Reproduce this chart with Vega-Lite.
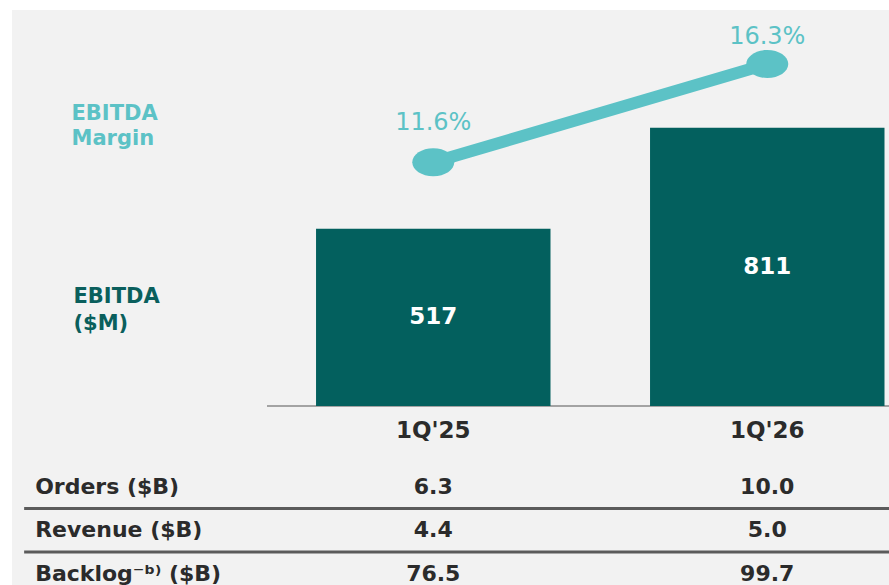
{
  "background": "white",
  "padding": {"left": 12, "top": 10, "right": 0, "bottom": 0},
  "bounds": "flush",
  "spacing": 0,
  "datasets": {
    "main": [
      {"period": "1Q'25", "ebitda": 517, "margin": 11.6, "margin_label": "11.6%"},
      {"period": "1Q'26", "ebitda": 811, "margin": 16.3, "margin_label": "16.3%"}
    ],
    "table": [
      {"metric": "Orders ($B)", "period": "1Q'25", "value": 6.3},
      {"metric": "Orders ($B)", "period": "1Q'26", "value": 10.0},
      {"metric": "Revenue ($B)", "period": "1Q'25", "value": 4.4},
      {"metric": "Revenue ($B)", "period": "1Q'26", "value": 5.0},
      {"metric": "Backlog⁻ᵇ⁾ ($B)", "period": "1Q'25", "value": 76.5},
      {"metric": "Backlog⁻ᵇ⁾ ($B)", "period": "1Q'26", "value": 99.7}
    ]
  },
  "vconcat": [
    {
      "width": 877,
      "height": 455,
      "data": {"name": "main"},
      "encoding": {
        "x": {
          "field": "period", "type": "nominal", "sort": null,
          "scale": {"domain": ["1Q'25", "1Q'26"], "paddingInner": 0.298, "paddingOuter": 0.4619, "align": 0.9854},
          "axis": null
        }
      },
      "layer": [
        {
          "mark": {"type": "rule", "color": "#a3a3a3", "strokeWidth": 2},
          "encoding": {
            "x": {"datum": "1Q'25", "type": "nominal", "bandPosition": -0.209, "axis": null},
            "x2": {"datum": "1Q'26", "bandPosition": 1.02},
            "y": {"datum": 0, "type": "quantitative", "scale": {"domain": [-172, 1154.5], "nice": false}, "axis": null}
          }
        },
        {
          "mark": {"type": "text", "color": "#2b2b2b", "fontSize": 23, "fontWeight": "bold", "font": "DejaVu Sans", "baseline": "middle", "dy": 24.5},
          "encoding": {
            "y": {"datum": 0, "type": "quantitative", "scale": {"domain": [-172, 1154.5], "nice": false}, "axis": null},
            "text": {"field": "period", "type": "nominal"}
          }
        },
        {
          "mark": {"type": "bar", "color": "#03605e"},
          "encoding": {
            "y": {
              "field": "ebitda", "type": "quantitative",
              "scale": {"domain": [-172, 1154.5], "nice": false},
              "axis": {"orient": "left", "title": ["EBITDA", "($M)"], "titleAngle": 0, "titleAlign": "left", "titleBaseline": "middle", "titleX": 61, "titleY": 286, "titleColor": "#0a5f5d", "titleFontSize": 21, "titleFontWeight": "bold", "titleLineHeight": 27, "titleFont": "DejaVu Sans", "titlePadding": 0, "labels": false, "ticks": false, "domain": false, "grid": false}
            }
          }
        },
        {
          "mark": {"type": "text", "color": "white", "fontSize": 23, "fontWeight": "bold", "font": "DejaVu Sans"},
          "encoding": {
            "y": {"field": "ebitda", "type": "quantitative", "scale": {"domain": [-344, 2309], "nice": false}, "axis": null},
            "text": {"field": "ebitda", "type": "quantitative"}
          }
        },
        {
          "mark": {
            "type": "line", "color": "#5cc2c6", "strokeWidth": 12, "strokeCap": "round",
            "point": {"shape": "M -1 0 A 1 0.667 0 1 0 1 0 A 1 0.667 0 1 0 -1 0 Z", "size": 1764, "filled": true, "color": "#5cc2c6", "opacity": 1}
          },
          "encoding": {
            "y": {
              "field": "margin", "type": "quantitative",
              "scale": {"domain": [-2.874, 18.885], "nice": false},
              "axis": {"orient": "left", "title": ["EBITDA", "Margin"], "titleAngle": 0, "titleAlign": "left", "titleBaseline": "middle", "titleX": 59, "titleY": 103, "titleColor": "#5cc2c6", "titleFontSize": 21, "titleFontWeight": "bold", "titleLineHeight": 25, "titleFont": "DejaVu Sans", "titlePadding": 0, "labels": false, "ticks": false, "domain": false, "grid": false}
            }
          }
        },
        {
          "mark": {"type": "text", "color": "#5cc2c6", "fontSize": 24, "font": "DejaVu Sans"},
          "encoding": {
            "y": {"field": "margin", "type": "quantitative", "scale": {"domain": [-7.07, 17.79], "nice": false}, "axis": null},
            "text": {"field": "margin_label", "type": "nominal"}
          }
        }
      ],
      "resolve": {"scale": {"y": "independent"}, "axis": {"y": "independent"}}
    },
    {
      "width": 877,
      "height": 120,
      "data": {"name": "table"},
      "encoding": {
        "y": {"field": "metric", "type": "nominal", "sort": null, "bandPosition": 1,
              "scale": {"domain": ["Orders ($B)", "Revenue ($B)", "Backlog⁻ᵇ⁾ ($B)"], "paddingInner": 0.5, "paddingOuter": 0.1293, "align": 0},
              "axis": null}
      },
      "layer": [
        {
          "transform": [
            {"filter": {"field": "period", "equal": "1Q'25"}},
            {"filter": {"not": {"field": "metric", "equal": "Orders ($B)"}}}
          ],
          "mark": {"type": "rule", "color": "#5b5b5b", "strokeWidth": 3},
          "encoding": {
            "x": {"datum": "1Q'25", "type": "nominal", "bandPosition": -1.245, "axis": null, "scale": {"domain": ["1Q'25", "1Q'26"], "paddingInner": 0.298, "paddingOuter": 0.4619, "align": 0.9854}},
            "x2": {"datum": "1Q'26", "bandPosition": 1.02},
            "y": {"field": "metric", "type": "nominal", "sort": null, "bandPosition": 0, "axis": null}
          }
        },
        {
          "transform": [
            {"filter": {"field": "period", "equal": "1Q'25"}}
          ],
          "mark": {"type": "text", "color": "#2b2b2b", "fontSize": 22, "fontWeight": "bold", "font": "DejaVu Sans", "align": "left"},
          "encoding": {
            "x": {"datum": "1Q'25", "type": "nominal", "bandPosition": -1.198, "axis": null},
            "text": {"field": "metric", "type": "nominal"}
          }
        },
        {
          "mark": {"type": "text", "color": "#2b2b2b", "fontSize": 22, "fontWeight": "bold", "font": "DejaVu Sans"},
          "encoding": {
            "x": {"field": "period", "type": "nominal", "sort": null, "axis": null,
                  "scale": {"domain": ["1Q'25", "1Q'26"], "paddingInner": 0.298, "paddingOuter": 0.4619, "align": 0.9854}},
            "text": {"field": "value", "type": "quantitative", "format": ".1f"}
          }
        }
      ]
    }
  ],
  "config": {
    "view": {"stroke": null, "fill": "#f2f2f2"},
    "axis": {"grid": false, "minExtent": 0},
    "font": "DejaVu Sans"
  }
}
